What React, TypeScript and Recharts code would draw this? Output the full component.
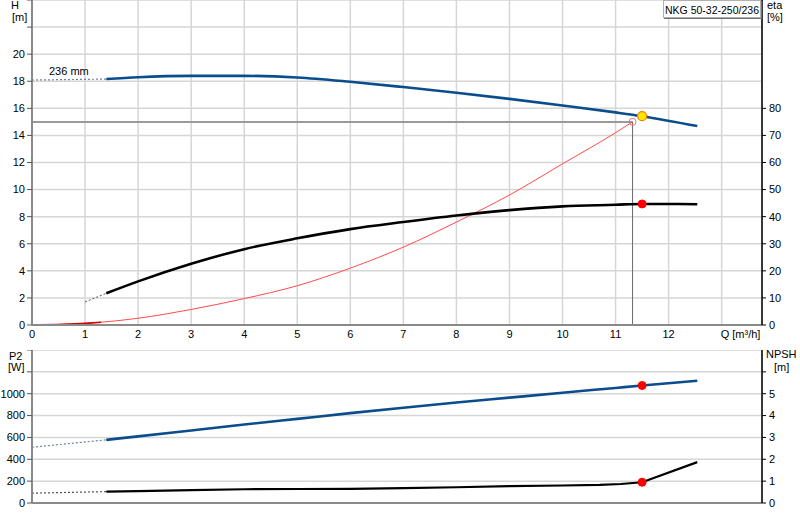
import React from "react";
import {
  ComposedChart,
  Line,
  XAxis,
  YAxis,
  CartesianGrid,
  ReferenceDot,
} from "recharts";

// ---------- data ----------
const Q_TICKS = [0, 1, 2, 3, 4, 5, 6, 7, 8, 9, 10, 11, 12, 13];
const H_TICKS = [0, 2, 4, 6, 8, 10, 12, 14, 16, 18, 20, 22, 24];
const ETA_TICKS = [0, 10, 20, 30, 40, 50, 60, 70, 80];
const P2_TICKS = [0, 200, 400, 600, 800, 1000, 1200, 1400];
const NPSH_TICKS = [0, 1, 2, 3, 4, 5, 6];

// Head curve (H, m)
const Q_CURVE = [1.4, 2, 3, 4, 5, 6, 7, 8, 9, 10, 11, 11.5, 12.54];
const H_VALUES = [18.16, 18.3, 18.4, 18.4, 18.28, 17.96, 17.57, 17.15, 16.7, 16.21, 15.7, 15.42, 14.69];
const Q_H_EXT = [0, 1.4];
const H_EXT = [18.09, 18.16];

// Efficiency (eta, %)
const ETA_VALUES = [11.7, 16.1, 22.6, 28, 32, 35.4, 38, 40.4, 42.4, 43.8, 44.4, 44.7, 44.6];
const Q_ETA_EXT = [1, 1.4];
const ETA_EXT = [8.5, 11.7];

// System curve (H, m)
const Q_SYS = [0, 1, 2, 3, 4, 5, 6, 7, 8, 9, 10, 11, 11.32];
const H_SYS = [0, 0.12, 0.5, 1.15, 1.95, 2.9, 4.2, 5.75, 7.6, 9.6, 11.9, 14.2, 15.0];
const Q_SYS_START = [0, 1, 1.3];
const H_SYS_START = [0, 0.12, 0.2];

// Duty point
const Q_DUTY_REQ = 11.32;
const H_DUTY_REQ = 15.0;
const Q_DUTY = 11.5;
const H_DUTY = 15.42;
const ETA_DUTY = 44.7;

// Power P2 (W)
const P2_VALUES = [578, 610, 664, 718, 770, 822, 872, 919, 964, 1009, 1053, 1075, 1118];
const Q_P2_EXT = [0, 1.4];
const P2_EXT = [510, 578];
const P2_DUTY = 1075;

// NPSH (m)
const Q_NPSH = [1.4, 2, 3, 4, 5, 6, 7, 8, 9, 10, 10.7, 11.1, 11.5, 12.54];
const NPSH_VALUES = [0.52, 0.54, 0.59, 0.63, 0.64, 0.65, 0.68, 0.72, 0.77, 0.8, 0.83, 0.87, 0.95, 1.87];
const Q_NPSH_EXT = [0, 1.4];
const NPSH_EXT = [0.45, 0.52];
const NPSH_DUTY = 0.95;

const PUMP_NAME = "NKG 50-32-250/236";
const IMPELLER = "236 mm";

// ---------- helpers ----------
const zip = (qs: number[], vs: number[], key: string) =>
  qs.map((q, i) => ({ q, [key]: vs[i] }));

const FONT = "'Liberation Sans', Arial, sans-serif";
const BLUE = "#0a4d8c";
const GRID = "#d6d6d6";
const AXIS_GRAY = "#8a8a8a";
const Q_MAX = 13.76;

const tickStyle = { fontSize: 11, fill: "#000", fontFamily: FONT };

const QTick = (props: any) => {
  const { x, y, payload } = props;
  const v = payload.value;
  if (v === 13) {
    return (
      <text x={x - 1} y={y} dy="0.71em" textAnchor="start" {...tickStyle}>
        Q [m³/h]
      </text>
    );
  }
  return (
    <text x={x} y={y} dy="0.71em" textAnchor="middle" {...tickStyle}>
      {v}
    </text>
  );
};

const label = (text: string, left: number, top: number): React.ReactNode => (
  <div
    style={{
      position: "absolute",
      left,
      top,
      fontFamily: FONT,
      fontSize: 11,
      lineHeight: "12px",
      color: "#000",
      whiteSpace: "nowrap",
    }}
  >
    {text}
  </div>
);

export default function App() {
  const hData = zip(Q_CURVE, H_VALUES, "h");
  const hExt = zip(Q_H_EXT, H_EXT, "h");
  const etaData = zip(Q_CURVE, ETA_VALUES, "eta");
  const etaExt = zip(Q_ETA_EXT, ETA_EXT, "eta");
  const sysData = zip(Q_SYS, H_SYS, "h");
  const sysStart = zip(Q_SYS_START, H_SYS_START, "h");
  const dutyH = zip([0, Q_DUTY_REQ], [H_DUTY_REQ, H_DUTY_REQ], "h");
  const dutyV = zip([Q_DUTY_REQ, Q_DUTY_REQ], [0, H_DUTY_REQ], "h");
  const p2Data = zip(Q_CURVE, P2_VALUES, "p2");
  const p2Ext = zip(Q_P2_EXT, P2_EXT, "p2");
  const npshData = zip(Q_NPSH, NPSH_VALUES, "npsh");
  const npshExt = zip(Q_NPSH_EXT, NPSH_EXT, "npsh");

  return (
    <div
      style={{
        position: "absolute",
        left: 0,
        top: 0,
        width: 800,
        height: 520,
        background: "#fff",
        overflow: "hidden",
      }}
    >
      {/* top chart */}
      <div style={{ position: "absolute", left: 0, top: 0 }}>
        <ComposedChart
          width={800}
          height={345}
          margin={{ top: 0, right: 0, bottom: 0, left: 0 }}
        >
          <CartesianGrid stroke={GRID} strokeWidth={1.5} yAxisId="h" />
          <XAxis
            dataKey="q"
            type="number"
            domain={[0, Q_MAX]}
            ticks={Q_TICKS}
            interval={0}
            allowDataOverflow
            height={20}
            tickSize={0}
            tickMargin={5}
            tick={<QTick />}
            axisLine={{ stroke: AXIS_GRAY, strokeWidth: 2 }}
          />
          <YAxis
            yAxisId="h"
            orientation="left"
            type="number"
            domain={[0, 24]}
            ticks={H_TICKS}
            interval={0}
            width={32}
            tickSize={5}
            tickMargin={2}
            tick={tickStyle}
            tickFormatter={(v: number) => (v > 20 ? "" : String(v))}
            tickLine={{ stroke: "#555" }}
            axisLine={{ stroke: AXIS_GRAY, strokeWidth: 2 }}
          />
          <YAxis
            yAxisId="eta"
            orientation="right"
            type="number"
            domain={[0, 120]}
            ticks={ETA_TICKS}
            interval={0}
            width={38}
            tickSize={4}
            tickMargin={3}
            tick={{ ...tickStyle, textAnchor: "start" }}
            tickLine={{ stroke: "#000" }}
            axisLine={{ stroke: "#000", strokeWidth: 1.5 }}
          />
          <Line
            yAxisId="h"
            data={dutyH}
            dataKey="h"
            stroke="#9a9a9a"
            strokeWidth={2}
            dot={false}
            activeDot={false}
            isAnimationActive={false}
          />
          <Line
            yAxisId="h"
            data={dutyV}
            dataKey="h"
            stroke="#6a6a6a"
            strokeWidth={1}
            dot={false}
            activeDot={false}
            isAnimationActive={false}
          />
          <Line
            yAxisId="h"
            data={sysData}
            dataKey="h"
            type="monotone"
            stroke="#ff4a4a"
            strokeWidth={1}
            dot={false}
            activeDot={false}
            isAnimationActive={false}
          />
          <Line
            yAxisId="h"
            data={sysStart}
            dataKey="h"
            type="monotone"
            stroke="#d00000"
            strokeWidth={1.6}
            dot={false}
            activeDot={false}
            isAnimationActive={false}
          />
          <Line
            yAxisId="eta"
            data={etaExt}
            dataKey="eta"
            stroke="#555"
            strokeWidth={1}
            strokeDasharray="2 2"
            dot={false}
            activeDot={false}
            isAnimationActive={false}
          />
          <Line
            yAxisId="eta"
            data={etaData}
            dataKey="eta"
            type="monotone"
            stroke="#000"
            strokeWidth={2.6}
            dot={false}
            activeDot={false}
            isAnimationActive={false}
          />
          <Line
            yAxisId="h"
            data={hExt}
            dataKey="h"
            stroke="#6f82a8"
            strokeWidth={1.2}
            strokeDasharray="2 2"
            dot={false}
            activeDot={false}
            isAnimationActive={false}
          />
          <Line
            yAxisId="h"
            data={hData}
            dataKey="h"
            type="monotone"
            stroke={BLUE}
            strokeWidth={2.6}
            dot={false}
            activeDot={false}
            isAnimationActive={false}
          />
          <ReferenceDot
            yAxisId="h"
            x={Q_DUTY_REQ}
            y={H_DUTY_REQ}
            r={3.5}
            fill="none"
            stroke="#f07070"
            strokeWidth={1}
          />
          <ReferenceDot
            yAxisId="h"
            x={Q_DUTY}
            y={H_DUTY}
            r={4.5}
            fill="#ffe400"
            stroke="#f08000"
            strokeWidth={1.2}
          />
          <ReferenceDot
            yAxisId="eta"
            x={Q_DUTY}
            y={ETA_DUTY}
            r={4}
            fill="#ff0000"
            stroke="#ff0000"
          />
        </ComposedChart>
      </div>

      {/* bottom chart */}
      <div style={{ position: "absolute", left: 0, top: 350 }}>
        <ComposedChart
          width={800}
          height={170}
          margin={{ top: 0, right: 0, bottom: 0, left: 0 }}
        >
          <CartesianGrid stroke={GRID} strokeWidth={1.5} yAxisId="p2" />
          <XAxis
            dataKey="q"
            type="number"
            domain={[0, Q_MAX]}
            ticks={Q_TICKS}
            interval={0}
            allowDataOverflow
            height={17}
            tick={false}
            tickLine={false}
            axisLine={{ stroke: AXIS_GRAY, strokeWidth: 2 }}
          />
          <XAxis
            xAxisId="top"
            orientation="top"
            dataKey="q"
            type="number"
            domain={[0, Q_MAX]}
            height={0}
            tick={false}
            tickLine={false}
            axisLine={{ stroke: AXIS_GRAY, strokeWidth: 2 }}
          />
          <YAxis
            yAxisId="p2"
            orientation="left"
            type="number"
            domain={[0, 1400]}
            ticks={P2_TICKS}
            interval={0}
            width={32}
            tickSize={5}
            tickMargin={2}
            tick={tickStyle}
            tickFormatter={(v: number) => (v > 1000 ? "" : String(v))}
            tickLine={{ stroke: "#555" }}
            axisLine={{ stroke: AXIS_GRAY, strokeWidth: 2 }}
          />
          <YAxis
            yAxisId="npsh"
            orientation="right"
            type="number"
            domain={[0, 7]}
            ticks={NPSH_TICKS}
            interval={0}
            width={38}
            tickSize={4}
            tickMargin={3}
            tick={{ ...tickStyle, textAnchor: "start" }}
            tickFormatter={(v: number) => (v > 5 ? "" : String(v))}
            tickLine={{ stroke: "#000" }}
            axisLine={{ stroke: "#000", strokeWidth: 1.5 }}
          />
          <Line
            yAxisId="p2"
            data={p2Ext}
            dataKey="p2"
            stroke="#6f82a8"
            strokeWidth={1.2}
            strokeDasharray="2 2"
            dot={false}
            activeDot={false}
            isAnimationActive={false}
          />
          <Line
            yAxisId="p2"
            data={p2Data}
            dataKey="p2"
            type="monotone"
            stroke={BLUE}
            strokeWidth={2.6}
            dot={false}
            activeDot={false}
            isAnimationActive={false}
          />
          <Line
            yAxisId="npsh"
            data={npshExt}
            dataKey="npsh"
            stroke="#555"
            strokeWidth={1.2}
            strokeDasharray="2 2"
            dot={false}
            activeDot={false}
            isAnimationActive={false}
          />
          <Line
            yAxisId="npsh"
            data={npshData}
            dataKey="npsh"
            type="linear"
            stroke="#000"
            strokeWidth={2.2}
            dot={false}
            activeDot={false}
            isAnimationActive={false}
          />
          <ReferenceDot
            yAxisId="p2"
            x={Q_DUTY}
            y={P2_DUTY}
            r={4}
            fill="#ff0000"
            stroke="#ff0000"
          />
          <ReferenceDot
            yAxisId="npsh"
            x={Q_DUTY}
            y={NPSH_DUTY}
            r={4}
            fill="#ff0000"
            stroke="#ff0000"
          />
        </ComposedChart>
      </div>

      {/* axis titles */}
      {label("H", 11, -1)}
      {label("[m]", 12, 11)}
      {label("eta", 767, -1)}
      {label("[%]", 767, 11)}
      {label("P2", 9, 350)}
      {label("[W]", 8, 361)}
      {label("NPSH", 766, 348)}
      {label("[m]", 774, 361)}
      {label(IMPELLER, 49, 65)}

      {/* pump name box */}
      <div
        style={{
          position: "absolute",
          left: 663,
          top: 0,
          width: 98,
          height: 18,
          border: "1px solid #b0b0b0",
          boxShadow: "1px 1px 0 #707070",
          background: "#fff",
          fontFamily: FONT,
          fontSize: 10.5,
          lineHeight: "18px",
          textAlign: "center",
          color: "#000",
          whiteSpace: "nowrap",
          boxSizing: "border-box",
        }}
      >
        {PUMP_NAME}
      </div>
    </div>
  );
}
